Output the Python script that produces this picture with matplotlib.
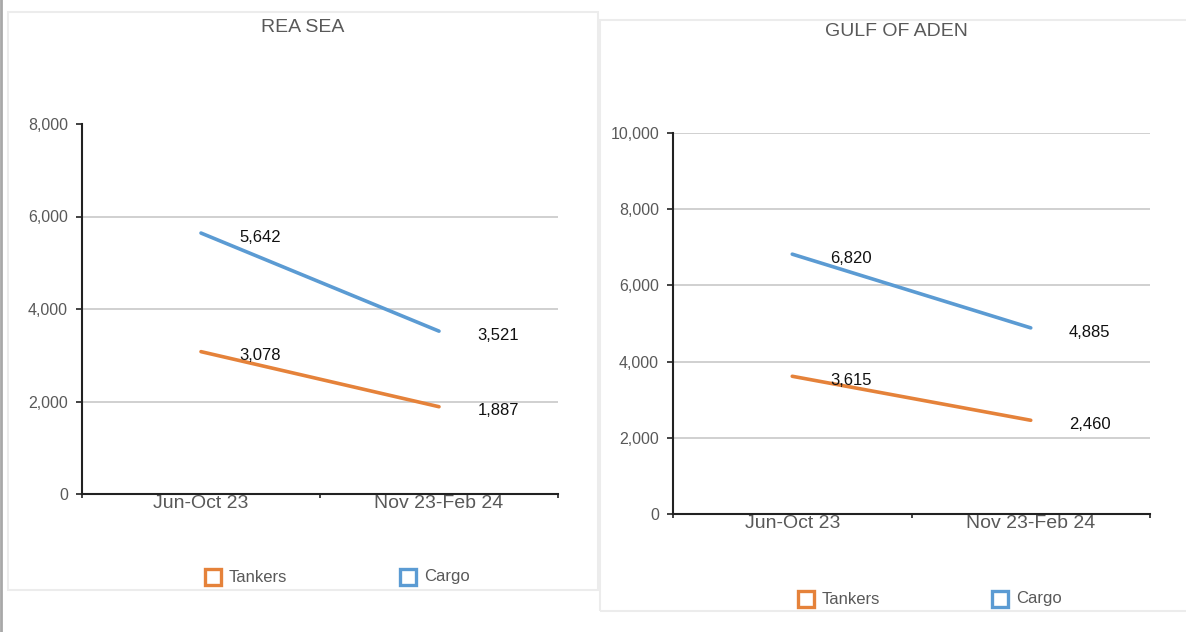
import matplotlib
matplotlib.use("Agg")
import matplotlib.pyplot as plt
from matplotlib.patches import Rectangle
from matplotlib.lines import Line2D

plt.rcParams['font.family'] = ['Liberation Sans', 'DejaVu Sans']

categories = ["Jun-Oct 23", "Nov 23-Feb 24"]
red_tankers = [3078, 1887]
red_cargo = [5642, 3521]
aden_tankers = [3615, 2460]
aden_cargo = [6820, 4885]
titles = ["REA SEA", "GULF OF ADEN"]
ymaxes = [8000, 10000]

ORANGE = "#E5823A"
BLUE = "#5B9BD3"
GRID = "#C8C8C8"
TXT = "#595959"

W, H = 1186, 632
fig = plt.figure(figsize=(W / 100, H / 100), dpi=100)
fig.patch.set_facecolor("white")

# panel borders
fig.add_artist(Rectangle((8 / W, 1 - 590 / H), 590 / W, 578 / H, transform=fig.transFigure,
                         fill=False, edgecolor="#ECECEC", linewidth=1.5))
fig.add_artist(Rectangle((600 / W, 1 - 611 / H), 600 / W, 591 / H, transform=fig.transFigure,
                         fill=False, edgecolor="#ECECEC", linewidth=1.5))
fig.add_artist(Line2D([1 / W, 1 / W], [0, 1], transform=fig.transFigure, color="#A8A8A8", linewidth=2))

axes_pos = [
    (82, 124, 558, 494),
    (673, 133, 1150, 514),
]
title_y = [27, 32]
legend_y = [577, 599]
legend_x = [(213, 408), (806, 1000)]
series = [(red_tankers, red_cargo), (aden_tankers, aden_cargo)]

for i in range(2):
    x0, yt, x1, yb = axes_pos[i]
    ax = fig.add_axes([x0 / W, 1 - yb / H, (x1 - x0) / W, (yb - yt) / H])
    tank, cargo = series[i]
    xs = [0.5, 1.5]
    ax.plot(xs, tank, color=ORANGE, linewidth=2.6, solid_capstyle="round", zorder=3)
    ax.plot(xs, cargo, color=BLUE, linewidth=2.6, solid_capstyle="round", zorder=3)
    for vals in (tank, cargo):
        for x, v in zip(xs, vals):
            ax.annotate(f"{v:,}", (x, v), xytext=(42.5, -3), textcoords="offset points",
                        ha="center", va="center", fontsize=12, color="#111111")
    ax.set_xlim(0, 2)
    ax.set_ylim(0, ymaxes[i])
    ticks = list(range(0, ymaxes[i] + 1, 2000))
    ax.set_yticks(ticks)
    ax.set_yticklabels([f"{t:,}" for t in ticks])
    for t in ticks[1:]:
        if i == 0 and t == ymaxes[i]:
            continue
        ax.axhline(t, color=GRID, linewidth=1.2, zorder=1)
    ax.set_xticks([0, 1, 2])
    ax.set_xticklabels(["", "", ""])
    ax.set_xticks(xs, minor=True)
    ax.set_xticklabels(categories, minor=True, fontsize=14, color=TXT)
    ax.tick_params(axis="x", which="minor", length=0, pad=1)
    ax.tick_params(axis="x", which="major", length=3, width=1.2, color="#222222", direction="out")
    ax.tick_params(axis="y", length=4, width=1.2, color="#222222", labelsize=11.5,
                   labelcolor=TXT, pad=6)
    for s in ("top", "right"):
        ax.spines[s].set_visible(False)
    for s in ("left", "bottom"):
        ax.spines[s].set_color("#222222")
        ax.spines[s].set_linewidth(1.5)
    ax.set_facecolor("none")

    # title
    fig.text((303 if i == 0 else 896) / W, 1 - title_y[i] / H, titles[i], ha="center",
             va="center", fontsize=14, color=TXT)
    # legend
    ly = legend_y[i]
    for lx, col, lab in ((legend_x[i][0], ORANGE, "Tankers"), (legend_x[i][1], BLUE, "Cargo")):
        fig.add_artist(Rectangle(((lx - 8) / W, 1 - (ly + 8) / H), 16 / W, 16 / H,
                                 transform=fig.transFigure, fill=False, edgecolor=col, linewidth=2.4))
        fig.text((lx + 16) / W, 1 - ly / H, lab, ha="left", va="center", fontsize=12, color=TXT)

fig.savefig("out.png", dpi=100, facecolor="white")
